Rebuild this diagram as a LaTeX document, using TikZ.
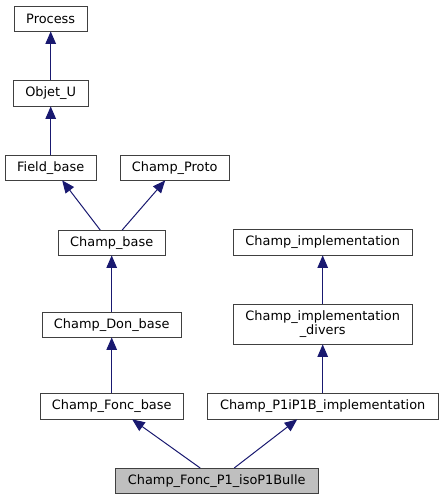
\documentclass[tikz,border=0pt]{standalone}
\usepackage{fontspec}
\setmainfont{DejaVu Sans}
\usepackage{tikz}
\usetikzlibrary{arrows.meta}
\usetikzlibrary{positioning}

\definecolor{edgeblue}{HTML}{191970}

\begin{document}
\begin{tikzpicture}[x=1pt, y=-1pt, thin,
    cls/.style={draw=black!75, fill=white, anchor=north west, inner sep=0pt,
                minimum height=25pt, align=center, font=\fontsize{12.9}{14}\selectfont},
    self/.style={cls, fill=black!25},
    inherit/.style={draw=edgeblue, line width=1pt, -{Triangle[length=12.5pt, width=10.5pt]}}]
    \useasboundingbox (0,0) rectangle (443,500);

    % classes, top left corner at the given point
    \node[cls, minimum width=73pt] (process) at (14, 6) {Process};
    \node[cls, minimum width=75pt, minimum height=26pt] (objetu) at (13, 80) {Objet\_U};
    \node[cls, minimum width=91pt] (fieldbase) at (5, 155) {Field\_base};
    \node[cls, minimum width=109pt] (champproto) at (120, 155) {Champ\_Proto};
    \node[cls, minimum width=107pt] (champbase) at (58, 230) {Champ\_base};
    \node[cls, minimum width=139pt] (champdon) at (42, 312) {Champ\_Don\_base};
    \node[cls, minimum width=143pt, minimum height=26pt] (champfonc) at (40, 393) {Champ\_Fonc\_base};
    \node[cls, minimum width=179pt, minimum height=26pt] (champimpl) at (233, 229) {Champ\_implementation};
    \node[cls, minimum width=179pt, minimum height=40pt] (impldivers) at (233, 304) {Champ\_implementation\\\_divers};
    \node[cls, minimum width=231pt, minimum height=26pt] (p1ip1b) at (207, 393) {Champ\_P1iP1B\_implementation};
    \node[self, minimum width=203pt] (bulle) at (115, 468) {Champ\_Fonc\_P1\_isoP1Bulle};

    % inheritance
    \draw[inherit] (objetu) -- (process);
    \draw[inherit] (fieldbase) -- (objetu);
    \draw[inherit] ([xshift=-11.5pt]champbase.north) -- ([xshift=11.5pt]fieldbase.south);
    \draw[inherit] ([xshift=10.5pt]champbase.north) -- ([xshift=-9.5pt]champproto.south);
    \draw[inherit] (champdon) -- (champbase);
    \draw[inherit] (champfonc) -- (champdon);
    \draw[inherit] (impldivers) -- (champimpl);
    \draw[inherit] (p1ip1b) -- (impldivers);
    \draw[inherit] ([xshift=-16.5pt]bulle.north) -- ([xshift=20.5pt]champfonc.south);
    \draw[inherit] ([xshift=17.5pt]bulle.north) -- ([xshift=-25.5pt]p1ip1b.south);
\end{tikzpicture}
\end{document}
